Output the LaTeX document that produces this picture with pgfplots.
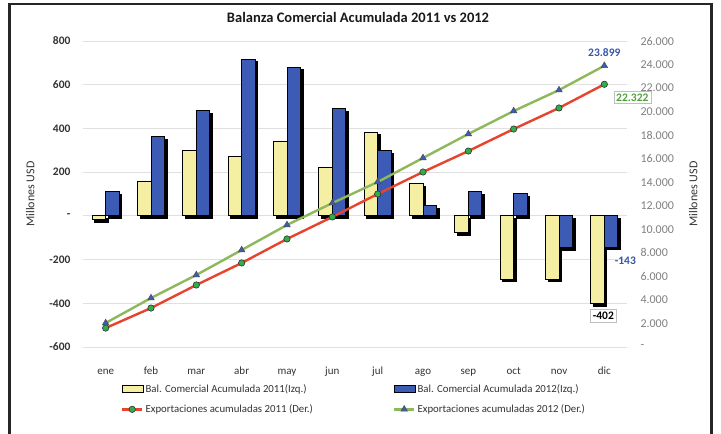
\documentclass[border=0pt]{standalone}
\usepackage{pgfplots}
\pgfplotsset{compat=1.18}
\usepackage{fontspec}
\setmainfont{Carlito}
\usetikzlibrary{shadows}
\definecolor{barYellow}{HTML}{F4EFA2}
\definecolor{barBlue}{HTML}{3C5BB4}
\definecolor{lineRed}{HTML}{E6442E}
\definecolor{lineGreen}{HTML}{8DB85B}
\definecolor{markGreen}{HTML}{2FAE4A}
\definecolor{markBlue}{HTML}{3C5DB6}
\definecolor{lblBlue}{HTML}{3A56A8}
\definecolor{lblGreen}{HTML}{4FA23A}
\pgfplotsset{
  barlegend/.style={legend image code/.code={\draw[##1,line width=0.8pt] (0pt,-3.5pt) rectangle (21pt,3.5pt);}},
  linelegend/.style={legend image code/.code={\draw[mark repeat=2,mark phase=2,##1] plot coordinates {(0pt,0pt)(10pt,0pt)(20pt,0pt)};}},
}
\newcommand{\fs}[1]{\fontsize{#1}{#1}\selectfont}
\begin{document}
\begin{tikzpicture}
\useasboundingbox (0,0) rectangle (721pt,434pt);
\fill[white] (0,0) rectangle (721pt,434pt);
\draw[line width=2.5pt, black!85] (9.5pt,0) -- (9.5pt,430pt) -- (711.5pt,430pt) -- (711.5pt,0);
\node[font=\bfseries\fs{14.5}, text=black!90] at (358pt,417pt) {Balanza Comercial Acumulada 2011 vs 2012};

\begin{axis}[
  at={(83pt,87pt)}, anchor=south west,
  scale only axis, width=544pt, height=306pt,
  xmin=-0.5, xmax=11.5, ymin=-600, ymax=800,
  xtick={0,...,11},
  xticklabels={ene,feb,mar,abr,may,jun,jul,ago,sep,oct,nov,dic},
  ytick={-600,-400,-200,0,200,400,600,800},
  yticklabels={-600,-400,-200,-,200,400,600,800},
  axis line style={draw=none}, major tick length=0pt,
  ymajorgrids, grid style={line width=0.8pt, color=black!12},
  ybar=0pt, bar width=13.5pt,
  clip=false,
  tick label style={font=\fs{11}, text=black!80},
  yticklabel style={font=\bfseries\fs{11.5}, xshift=-9pt},
  xticklabel style={yshift=-16pt, text height=8pt, text depth=2.5pt},
  ylabel={Millones USD},
  ylabel style={at={(axis description cs:-0.097,0.5)}, anchor=center, font=\fs{12}, text=black!80},
]
\addplot[fill=barYellow, draw=black, line width=1pt,
  drop shadow={shadow xshift=2.5pt, shadow yshift=-2.5pt, fill=black, opacity=1}]
  coordinates {(0,-18) (1,157) (2,297) (3,271) (4,340) (5,221) (6,383) (7,146) (8,-77) (9,-289) (10,-289) (11,-402)};
\addplot[fill=barBlue, draw=black, line width=1pt,
  drop shadow={shadow xshift=2.5pt, shadow yshift=-2.5pt, fill=black, opacity=1}]
  coordinates {(0,111) (1,363) (2,482) (3,716) (4,679) (5,489) (6,298) (7,46) (8,111) (9,101) (10,-145) (11,-143)};
\coordinate (p143) at (axis cs:11,-143);
\coordinate (p402) at (axis cs:11,-402);
\end{axis}

\begin{axis}[
  at={(83pt,87pt)}, anchor=south west,
  scale only axis, width=544pt, height=306pt,
  xmin=-0.5, xmax=11.5, ymin=0, ymax=26000,
  hide x axis,
  axis y line*=right,
  y axis line style={draw=none}, major tick length=0pt,
  scaled y ticks=false,
  ytick={0,2000,...,26000},
  yticklabels={-,2.000,4.000,6.000,8.000,10.000,12.000,14.000,16.000,18.000,20.000,22.000,24.000,26.000},
  yticklabel style={font=\fs{12}, text=black!50, xshift=10pt},
  ylabel={Millones USD},
  ylabel style={at={(axis description cs:1.122,0.5)}, anchor=center, font=\fs{12}, text=black!80},
  clip=false,
  legend columns=2,
  legend cell align=left,
  legend style={at={(axis description cs:0.064,-0.108)}, anchor=north west, draw=none, fill=none,
    font=\fs{10.8}, text=black!80, row sep=7pt,
    /tikz/every even column/.append style={column sep=78pt}},
]
\addlegendimage{barlegend, fill=barYellow, draw=black}
\addlegendentry{Bal. Comercial Acumulada 2011(Izq.)}
\addlegendimage{barlegend, fill=barBlue, draw=black}
\addlegendentry{Bal. Comercial Acumulada 2012(Izq.)}
\addplot[linelegend, color=lineRed, line width=2.4pt, mark=*, mark size=3.2pt,
  mark options={fill=markGreen, draw=black!80, line width=0.6pt}]
  coordinates {(0,1610) (1,3310) (2,5270) (3,7140) (4,9180) (5,11050) (6,13000) (7,14870) (8,16650) (9,18520) (10,20310) (11,22322)};
\addlegendentry{Exportaciones acumuladas 2011 (Der.)}
\addplot[linelegend, color=lineGreen, line width=2.4pt, mark=triangle*, mark size=3.8pt,
  mark options={fill=markBlue, draw=black!70, line width=0.5pt}]
  coordinates {(0,2040) (1,4160) (2,6120) (3,8240) (4,10370) (5,12230) (6,14020) (7,16060) (8,18100) (9,20050) (10,21830) (11,23899)};
\addlegendentry{Exportaciones acumuladas 2012 (Der.)}
\node[text=lblBlue, font=\bfseries\fs{11.5}, yshift=13pt] at (axis cs:11,23899) {23.899};
\node[draw=black!25, fill=white, text=lblGreen, font=\bfseries\fs{11.5}, inner sep=2.5pt, xshift=28pt, yshift=-13pt] at (axis cs:11,22322) {22.322};
\end{axis}
\node[text=lblBlue, font=\bfseries\fs{11.5}, xshift=21pt, yshift=-14pt] at (p143) {-143};
\node[draw=black!25, fill=white, font=\bfseries\fs{11.5}, inner sep=2.5pt, xshift=-1pt, yshift=-12pt] at (p402) {-402};
\end{tikzpicture}
\end{document}
